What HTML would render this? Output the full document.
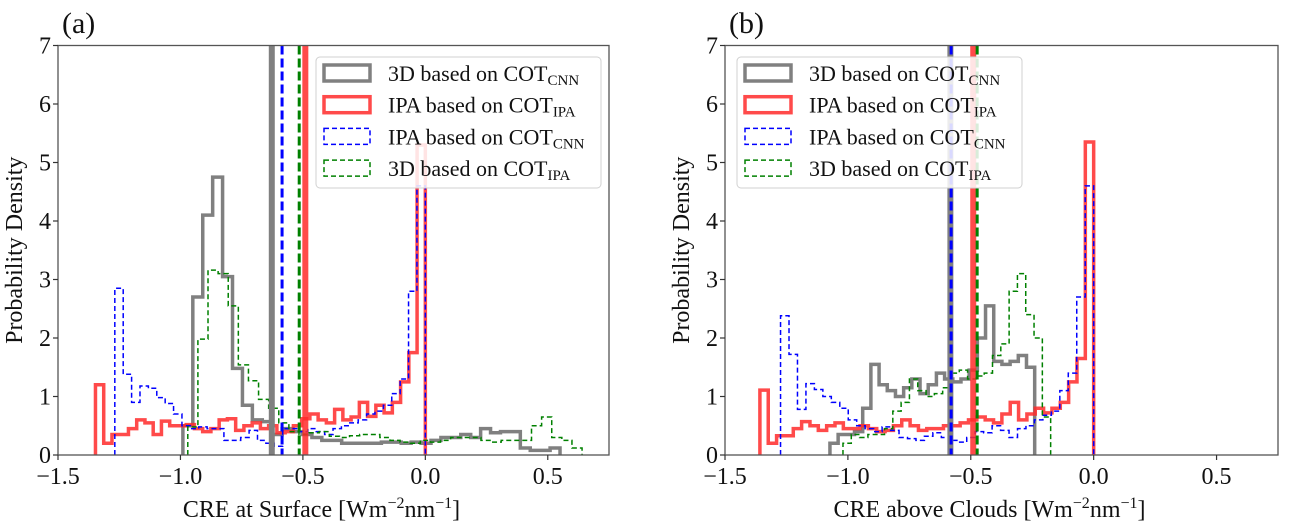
<!DOCTYPE html>
<html><head><meta charset="utf-8"><style>
html,body{margin:0;padding:0;background:#fff;}
svg, svg text{font-family:"Liberation Serif","Times New Roman","DejaVu Serif","Noto Serif CJK SC",serif;}
</style></head><body>
<svg id="fig" width="1290" height="527" viewBox="0 0 1290 527" xmlns="http://www.w3.org/2000/svg" font-family="Liberation Serif, Times New Roman, DejaVu Serif, serif"></svg>
<script>
// ---- data (panel a: CRE at surface) ----
const aGrayStart=-0.99, aGrayEnd=0.55;
const aGrayVals=[0.5,2.7,4.1,4.75,3.05,1.48,0.85,0.6,0.57,0.35,0.45,0.4,0.35,0.3,0.25,0.25,0.2,0.2,0.2,0.2,0.22,0.22,0.2,0.22,0.2,0.25,0.3,0.3,0.35,0.3,0.45,0.38,0.4,0.4,0.12,0.08,0.08,0.12];
const aRedStart=-1.347, aRedEnd=0.0;
const aRedVals=[1.2,0.2,0.35,0.35,0.45,0.6,0.55,0.35,0.58,0.5,0.5,0.52,0.45,0.4,0.45,0.6,0.62,0.42,0.5,0.55,0.45,0.5,0.38,0.4,0.5,0.62,0.7,0.6,0.55,0.78,0.6,0.65,0.9,0.66,0.85,0.72,0.9,1.25,1.75,5.3];
const aBlueStart=-1.268, aBlueEnd=0.0;
const aBlueVals=[2.85,1.38,0.9,1.18,1.14,0.98,0.88,0.7,0.5,0.45,0.48,0.45,0.45,0.25,0.25,0.3,0.42,0.25,0.2,0.15,0.45,0.45,0.4,0.45,0.4,0.35,0.45,0.5,0.55,0.6,0.7,0.75,0.85,1.05,1.3,2.8,4.6];
const aGreenStart=-0.97, aGreenEnd=0.64;
const aGreenVals=[0.48,1.98,3.16,3.1,2.55,1.54,1.27,0.95,0.8,0.55,0.4,0.35,0.38,0.4,0.32,0.3,0.33,0.35,0.35,0.3,0.25,0.22,0.2,0.25,0.22,0.25,0.3,0.3,0.3,0.25,0.22,0.25,0.25,0.25,0.5,0.65,0.3,0.25,0.12];
const aMeans=[-0.627,-0.49,-0.585,-0.515]; // gray, red, blue, green

// ---- data (panel b: CRE above clouds) ----
const bGrayStart=-1.073, bGrayEnd=-0.24;
const bGrayVals=[0.2,0.35,0.35,0.4,0.8,1.55,1.2,1.1,1.0,1.15,1.3,1.05,1.2,1.4,1.3,1.25,1.3,1.45,2.0,2.55,1.6,1.55,1.6,1.7,1.5];
const bRedStart=-1.358, bRedEnd=0.0;
const bRedVals=[1.11,0.2,0.33,0.33,0.45,0.57,0.5,0.42,0.5,0.55,0.45,0.45,0.5,0.45,0.4,0.42,0.5,0.6,0.5,0.42,0.45,0.45,0.5,0.5,0.55,0.6,0.65,0.6,0.55,0.7,0.9,0.6,0.7,0.8,0.72,0.8,0.9,1.25,1.65,5.35];
const bBlueStart=-1.274, bBlueEnd=0.0;
const bBlueVals=[2.38,1.72,0.78,1.22,1.12,1.0,0.9,0.8,0.6,0.5,0.45,0.4,0.48,0.42,0.3,0.28,0.25,0.32,0.38,0.3,0.25,0.22,0.3,0.4,0.38,0.5,0.42,0.3,0.45,0.5,0.6,0.68,0.75,1.1,1.4,2.7,4.6];
const bGreenStart=-1.02, bGreenEnd=-0.175;
const bGreenVals=[0.2,0.35,0.3,0.35,0.35,0.45,0.75,0.9,1.3,1.1,1.0,1.05,1.15,1.4,1.45,1.3,1.35,1.4,1.7,1.9,2.8,3.1,2.4,2.0,0.65];
const bMeans=[-0.583,-0.49,-0.58,-0.474];

const xTicks=[-1.5,-1.0,-0.5,0.0,0.5];
const xTickLabels=["\u22121.5","\u22121.0","\u22120.5","0.0","0.5"];
const yTicks=[0,1,2,3,4,5,6,7];
const xMin=-1.5, xMax=0.75, yMin=0, yMax=7;

const NS="http://www.w3.org/2000/svg";
const svg=document.getElementById('fig');
const FONT="Liberation Serif, Times New Roman, DejaVu Serif, serif";
function mk(tag,attrs,parent){const e=document.createElementNS(NS,tag);for(const k in attrs)e.setAttribute(k,attrs[k]);if(tag==='text')e.setAttribute('font-family',FONT);(parent||svg).appendChild(e);return e;}

const styles=[
 {stroke:"#808080",w:3.5,dash:null,op:1,mw:6,mdash:null},
 {stroke:"#ff2a2a",w:3.5,dash:null,op:0.85,mw:6,mdash:null},
 {stroke:"#0000ff",w:1.5,dash:"5,3",op:1,mw:3,mdash:"9,4"},
 {stroke:"#008000",w:1.5,dash:"5,3",op:1,mw:3,mdash:"9,4"}
];

function panel(id,L,R,T,B,hists,means,xlabel,letter,legX){
  const g=mk('g',{});  
  const sx=v=>L+(v-xMin)/(xMax-xMin)*(R-L);
  const sy=v=>B-(v-yMin)/(yMax-yMin)*(B-T);
  const clip=mk('clipPath',{id:'clip'+id},g);
  mk('rect',{x:L,y:T,width:R-L,height:B-T},clip);
  const plot=mk('g',{'clip-path':'url(#clip'+id+')'},g);
   
  const names=['hist-3d-cot-cnn','hist-ipa-cot-ipa','hist-ipa-cot-cnn','hist-3d-cot-ipa'];
  hists.forEach((h,i)=>{
    const n=h.vals.length, w=(h.end-h.start)/n;
    let d='M'+sx(h.start)+','+sy(0);
    h.vals.forEach((v,k)=>{d+=' L'+sx(h.start+k*w)+','+sy(v)+' L'+sx(h.start+(k+1)*w)+','+sy(v);});
    d+=' L'+sx(h.end)+','+sy(0);
    const s=styles[i];
    const p=mk('path',{d:d,fill:'none',stroke:s.stroke,'stroke-width':s.w,'stroke-opacity':s.op,'stroke-linejoin':'miter'},plot);
    if(s.dash)p.setAttribute('stroke-dasharray',s.dash);
     
  });
  means.forEach((m,i)=>{
    const s=styles[i];
    const l=mk('line',{x1:sx(m),x2:sx(m),y1:T,y2:B,stroke:s.stroke,'stroke-width':s.mw,'stroke-opacity':s.op},plot);
    if(s.mdash)l.setAttribute('stroke-dasharray',s.mdash);
     
  });
  const fr=mk('rect',{x:L,y:T,width:R-L,height:B-T,fill:'none',stroke:'#555','stroke-width':1.3},g);
   
  xTicks.forEach((t,i)=>{
    const x=sx(t);
    const tk=mk('line',{x1:x,x2:x,y1:B,y2:B+5,stroke:'#333','stroke-width':1.2},g);
     
    const tx=mk('text',{x:x,y:B+29,'text-anchor':'middle','font-size':24,fill:'#111'},g);
    tx.textContent=xTickLabels[i];
     
  });
  yTicks.forEach(t=>{
    const y=sy(t);
    const tk=mk('line',{x1:L-5,x2:L,y1:y,y2:y,stroke:'#333','stroke-width':1.2},g);
     
    const tx=mk('text',{x:L-7,y:y+8,'text-anchor':'end','font-size':24,fill:'#111'},g);
    tx.textContent=String(t);
     
  });
  const xl=mk('text',{x:(L+R)/2-12,y:B+62,'text-anchor':'middle','font-size':24,fill:'#111'},g);
  xl.innerHTML='CRE '+xlabel+' [Wm<tspan dy="-9" font-size="16">\u22122</tspan><tspan dy="9">nm</tspan><tspan dy="-9" font-size="16">\u22121</tspan><tspan dy="9">]</tspan>';
   
  const yl=mk('text',{x:0,y:0,'text-anchor':'middle','font-size':24,fill:'#111',transform:'translate('+(L-36)+','+((T+B)/2)+') rotate(-90)'},g);
  yl.textContent='Probability Density';
   
  const lt=mk('text',{x:L+4,y:33,'font-size':30,fill:'#111'},g);
  lt.textContent='('+letter+')';
   
  // legend
  const lg=mk('g',{},g);  
  mk('rect',{x:legX,y:57,width:285,height:131,rx:4,fill:'#fff','fill-opacity':0.85,stroke:'#d0d0d0','stroke-width':1},lg);
  const labels=[['3D based on COT','CNN'],['IPA based on COT','IPA'],['IPA based on COT','CNN'],['3D based on COT','IPA']];
  labels.forEach((lab,i)=>{
    const y=73+i*31.7, s=styles[i];
    const e=mk('g',{},lg);  
    const r=mk('rect',{x:legX+8,y:y-8,width:46,height:16,fill:'none',stroke:s.stroke,'stroke-width':s.w,'stroke-opacity':s.op},e);
    if(s.dash)r.setAttribute('stroke-dasharray',s.dash);
    const t=mk('text',{x:legX+72,y:y+8,'font-size':22,fill:'#111'},e);
    t.innerHTML=lab[0]+'<tspan dy="4" font-size="15">'+lab[1]+'</tspan>';
  });
}
panel('a',58,609,45.5,455,
 [{start:aGrayStart,end:aGrayEnd,vals:aGrayVals},{start:aRedStart,end:aRedEnd,vals:aRedVals},{start:aBlueStart,end:aBlueEnd,vals:aBlueVals},{start:aGreenStart,end:aGreenEnd,vals:aGreenVals}],
 aMeans,'at Surface','a',316);
panel('b',725,1278,45.5,455,
 [{start:bGrayStart,end:bGrayEnd,vals:bGrayVals},{start:bRedStart,end:bRedEnd,vals:bRedVals},{start:bBlueStart,end:bBlueEnd,vals:bBlueVals},{start:bGreenStart,end:bGreenEnd,vals:bGreenVals}],
 bMeans,'above Clouds','b',737);
</script>
</body></html>
